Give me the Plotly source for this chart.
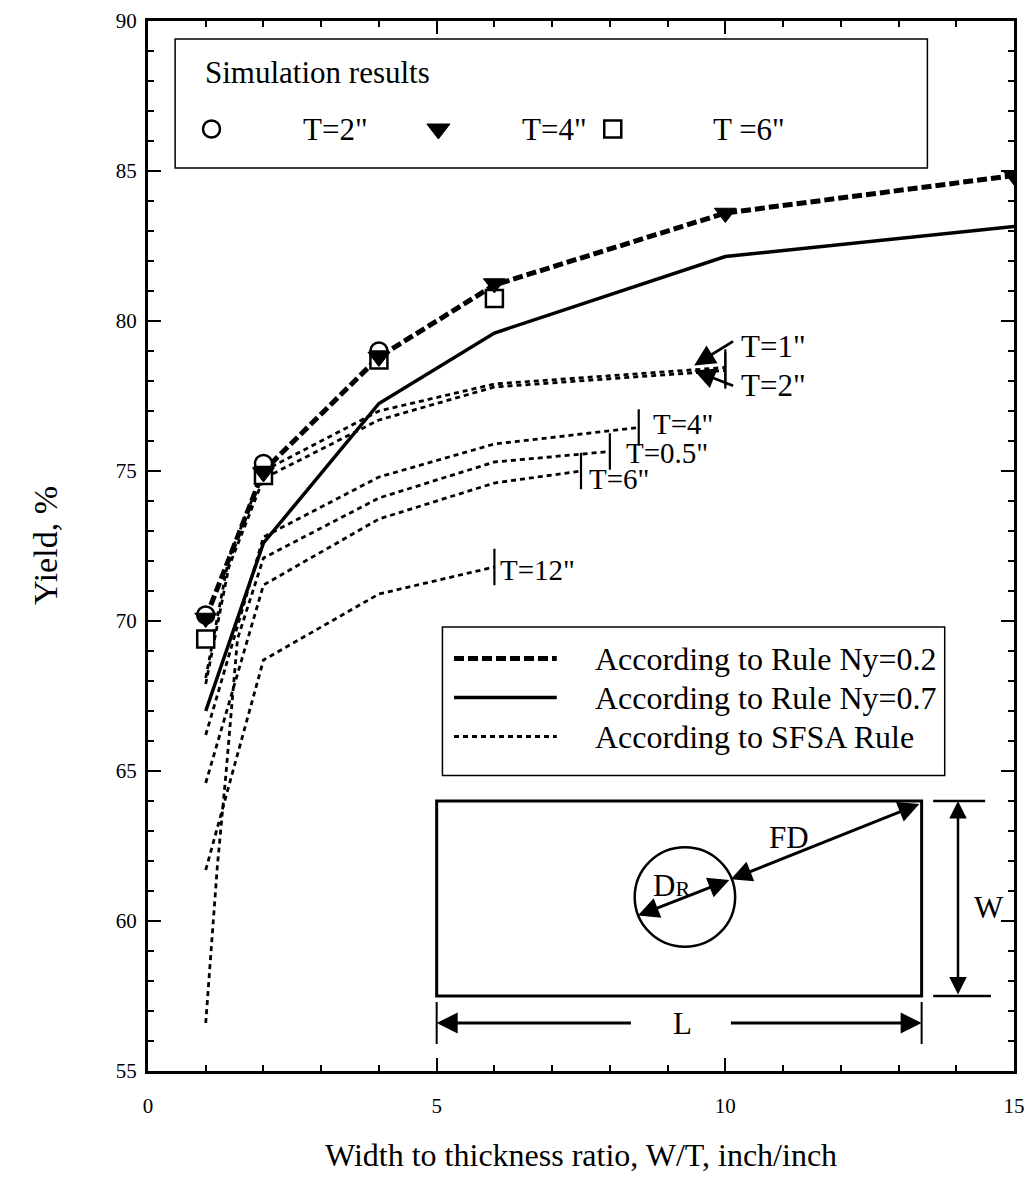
import plotly.graph_objects as go

# ---------------- data ----------------
ny02_x = [1, 2, 4, 6, 10, 15]
ny02_y = [70.1, 75.0, 78.8, 81.2, 83.6, 84.85]

ny07_x = [1, 2, 4, 6, 10, 15]
ny07_y = [67.0, 72.6, 77.25, 79.6, 82.15, 83.15]

sim_t2_x = [1, 2, 4]
sim_t2_y = [70.2, 75.25, 79.0]
sim_t4_x = [1, 2, 4, 6, 10, 15]
sim_t4_y = [70.1, 74.95, 78.8, 81.25, 83.6, 84.85]
sim_t6_x = [1, 2, 4, 6]
sim_t6_y = [69.4, 74.85, 78.7, 80.75]

sfsa_names = ['T=1"', 'T=2"', 'T=4"', 'T=0.5"', 'T=6"', 'T=12"']
sfsa_x = [
    [1, 1.4, 2, 4, 6, 10],
    [1, 1.4, 2, 4, 6, 10],
    [1, 2, 4, 6, 8.5],
    [1, 1.2, 1.35, 1.55, 2, 4, 6, 8],
    [1, 2, 4, 6, 7.5],
    [1, 2, 4, 6],
]
sfsa_y = [
    [68.1, 72.1, 75.0, 77.0, 77.9, 78.45],
    [67.9, 71.8, 74.75, 76.7, 77.8, 78.35],
    [66.2, 72.8, 74.8, 75.9, 76.45],
    [56.6, 61.8, 64.9, 69.4, 72.1, 74.1, 75.3, 75.65],
    [64.6, 71.2, 73.4, 74.6, 75.0],
    [61.7, 68.7, 70.9, 71.8],
]

x_ticks = [0, 5, 10, 15]
y_ticks = [55, 60, 65, 70, 75, 80, 85, 90]

# ---------------- styles ----------------
FONT = "Liberation Serif"
BLK = "black"
DASH02 = "10px,4px"
DASHSF = "5px,4px"
TXT = 31

fig = go.Figure()

# SFSA curves
for xs, ys in zip(sfsa_x, sfsa_y):
    fig.add_trace(go.Scatter(x=xs, y=ys, mode="lines",
                             line=dict(color=BLK, width=2.8, dash=DASHSF),
                             showlegend=False, hoverinfo="skip"))
# end marks of the SFSA curves
fig.add_trace(go.Scatter(x=[xs[-1] for xs in sfsa_x], y=[ys[-1] for ys in sfsa_y],
                         mode="markers",
                         marker=dict(symbol="line-ns", size=26,
                                     line=dict(color=BLK, width=2.2)),
                         showlegend=False, hoverinfo="skip"))

# Rule lines
fig.add_trace(go.Scatter(x=ny07_x, y=ny07_y, mode="lines",
                         line=dict(color=BLK, width=3.5), showlegend=False))
fig.add_trace(go.Scatter(x=ny02_x, y=ny02_y, mode="lines",
                         line=dict(color=BLK, width=5, dash=DASH02), showlegend=False))

# Simulation markers
fig.add_trace(go.Scatter(x=sim_t2_x, y=sim_t2_y, mode="markers",
                         marker=dict(symbol="circle", size=17, color="white",
                                     line=dict(color=BLK, width=2.5)), showlegend=False))
fig.add_trace(go.Scatter(x=sim_t6_x, y=sim_t6_y, mode="markers",
                         marker=dict(symbol="square", size=17, color="white",
                                     line=dict(color=BLK, width=2.5)), showlegend=False))
fig.add_trace(go.Scatter(x=sim_t4_x, y=sim_t4_y, mode="markers",
                         marker=dict(symbol="triangle-down", size=19, color=BLK,
                                     line=dict(color=BLK, width=1)), showlegend=False))

# ---------------- top legend box (Simulation results) ----------------
leg1_row_y = 86.4
fig.add_trace(go.Scatter(x=[1.1], y=[leg1_row_y], mode="markers",
                         marker=dict(symbol="circle", size=17, color="white",
                                     line=dict(color=BLK, width=2.5)), showlegend=False))
fig.add_trace(go.Scatter(x=[5.03], y=[leg1_row_y], mode="markers",
                         marker=dict(symbol="triangle-down", size=20, color=BLK,
                                     line=dict(color=BLK, width=1)), showlegend=False))
fig.add_trace(go.Scatter(x=[8.05], y=[leg1_row_y], mode="markers",
                         marker=dict(symbol="square", size=17, color="white",
                                     line=dict(color=BLK, width=2.5)), showlegend=False))

shapes = []
annotations = []

shapes.append(dict(type="rect", xref="x", yref="y", x0=0.47, x1=13.5, y0=85.1, y1=89.4,
                   line=dict(color=BLK, width=1.5), fillcolor="rgba(0,0,0,0)", layer="below"))
annotations.append(dict(x=0.95, y=88.3, xref="x", yref="y", text="Simulation results",
                        showarrow=False, xanchor="left", yanchor="middle",
                        font=dict(family=FONT, size=TXT, color=BLK)))
for tx, tt in [(2.65, 'T=2"'), (6.45, 'T=4"'), (9.75, 'T =6"')]:
    annotations.append(dict(x=tx, y=leg1_row_y, xref="x", yref="y", text=tt,
                            showarrow=False, xanchor="left", yanchor="middle",
                            font=dict(family=FONT, size=TXT, color=BLK)))

# ---------------- lower legend box (rules) ----------------
shapes.append(dict(type="rect", xref="x", yref="y", x0=5.1, x1=13.8, y0=64.85, y1=69.8,
                   line=dict(color=BLK, width=1.5), fillcolor="white", layer="below"))
leg2_rows = [
    (68.75, "According to Rule Ny=0.2", dict(color=BLK, width=5, dash=DASH02)),
    (67.45, "According to Rule Ny=0.7", dict(color=BLK, width=3.5)),
    (66.15, "According to SFSA Rule", dict(color=BLK, width=2.8, dash=DASHSF)),
]
for ry, txt, ln in leg2_rows:
    shapes.append(dict(type="line", xref="x", yref="y", x0=5.3, x1=7.08, y0=ry, y1=ry, line=ln))
    annotations.append(dict(x=7.7, y=ry, xref="x", yref="y", text=txt, showarrow=False,
                            xanchor="left", yanchor="middle",
                            font=dict(family=FONT, size=32, color=BLK)))

# ---------------- inset diagram ----------------
shapes.append(dict(type="rect", xref="x", yref="y", x0=5.0, x1=13.4, y0=57.5, y1=64.0,
                   line=dict(color=BLK, width=3), fillcolor="rgba(0,0,0,0)"))
shapes.append(dict(type="circle", xref="x", yref="y", x0=9.3 - 0.87, x1=9.3 + 0.87,
                   y0=60.8 - 1.66, y1=60.8 + 1.66, line=dict(color=BLK, width=2.5)))
# extension lines
for ex in [5.0, 13.4]:
    shapes.append(dict(type="line", xref="x", yref="y", x0=ex, x1=ex, y0=57.3, y1=55.9,
                       line=dict(color=BLK, width=2)))
for ey, e1 in [(64.0, 14.5), (57.5, 14.6)]:
    shapes.append(dict(type="line", xref="x", yref="y", x0=13.6, x1=e1, y0=ey, y1=ey,
                       line=dict(color=BLK, width=2.5)))


def arrow(x0, y0, x1, y1, both=False, w=3, size=1.4):
    return dict(x=x1, y=y1, ax=x0, ay=y0, xref="x", yref="y", axref="x", ayref="y",
                text="", showarrow=True, arrowhead=2, arrowsize=size, arrowwidth=w,
                arrowcolor=BLK, arrowside="end+start" if both else "end",
                standoff=0, startstandoff=0)


annotations.append(arrow(8.46, 60.16, 10.07, 61.37, both=True))        # D_R
annotations.append(arrow(10.07, 61.37, 13.36, 63.9, both=True))        # FD
annotations.append(arrow(14.03, 57.5, 14.03, 64.0, both=True, w=2.5))  # W
annotations.append(arrow(8.39, 56.6, 5.0, 56.6, w=3))                  # L left
annotations.append(arrow(10.07, 56.6, 13.4, 56.6, w=3))                # L right

for tx, ty, tt in [(11.1, 62.8, "FD"), (9.06, 61.2, "D<span style='font-size:22px'>R</span>"),
                   (9.26, 56.6, "L"), (14.56, 60.44, "W")]:
    annotations.append(dict(x=tx, y=ty, xref="x", yref="y", text=tt, showarrow=False,
                            xanchor="center", yanchor="middle",
                            font=dict(family=FONT, size=TXT, color=BLK)))

# ---------------- curve labels ----------------
annotations.append(arrow(10.16, 79.35, 9.46, 78.52, w=2.8, size=1.5))
annotations.append(arrow(10.16, 77.82, 9.46, 78.35, w=2.8, size=1.5))
annotations.append(dict(x=10.23, y=79.15, xref="x", yref="y", text='T=1"', showarrow=False,
                        xanchor="left", yanchor="middle", font=dict(family=FONT, size=TXT, color=BLK)))
annotations.append(dict(x=10.23, y=77.86, xref="x", yref="y", text='T=2"', showarrow=False,
                        xanchor="left", yanchor="middle", font=dict(family=FONT, size=TXT, color=BLK)))
label_shift = {'T=4"': (12, 4), 'T=0.5"': (14, -1), 'T=6"': (6, -8), 'T=12"': (4, -3)}
for name, xs, ys in zip(sfsa_names, sfsa_x, sfsa_y):
    if name in label_shift:
        dx, dy = label_shift[name]
        annotations.append(dict(x=xs[-1], y=ys[-1], xref="x", yref="y", text=name,
                                showarrow=False, xanchor="left", yanchor="middle",
                                xshift=dx, yshift=dy,
                                font=dict(family=FONT, size=29, color=BLK)))

# ---------------- axis titles ----------------
annotations.append(dict(x=0.5, y=0, xref="paper", yref="paper", yshift=-84,
                        text="Width to thickness ratio, W/T, inch/inch", showarrow=False,
                        xanchor="center", yanchor="middle",
                        font=dict(family=FONT, size=32, color=BLK)))
annotations.append(dict(x=0, y=0.5, xref="paper", yref="paper", xshift=-103,
                        text="Yield, %", showarrow=False, textangle=-90,
                        xanchor="center", yanchor="middle",
                        font=dict(family=FONT, size=34, color=BLK)))

axis_common = dict(showgrid=False, zeroline=False, showline=True, linecolor=BLK,
                   linewidth=3, mirror="ticks", ticks="inside", tickcolor=BLK,
                   tickwidth=2, ticklen=13, automargin=False, ticklabeloverflow="allow",
                   tickfont=dict(family=FONT, size=21, color=BLK))

# the page adds an 8px body margin, so the figure is sized to fit the window
fig.update_layout(
    width=1024, height=1188,
    margin=dict(l=140, r=18, t=13, b=125),
    paper_bgcolor="white", plot_bgcolor="white",
    showlegend=False,
    shapes=shapes, annotations=annotations,
    xaxis=dict(range=[0, 15], tickvals=x_ticks, ticktext=[str(v) for v in x_ticks],
               minor=dict(dtick=1, ticks="inside", ticklen=6, tickwidth=2, tickcolor=BLK),
               ticklabelstandoff=14, **axis_common),
    yaxis=dict(range=[55, 90], tickvals=y_ticks, ticktext=[str(v) for v in y_ticks],
               minor=dict(dtick=1, ticks="inside", ticklen=6, tickwidth=2, tickcolor=BLK),
               ticklabelstandoff=4, **axis_common),
)

fig.write_html("out.html")
